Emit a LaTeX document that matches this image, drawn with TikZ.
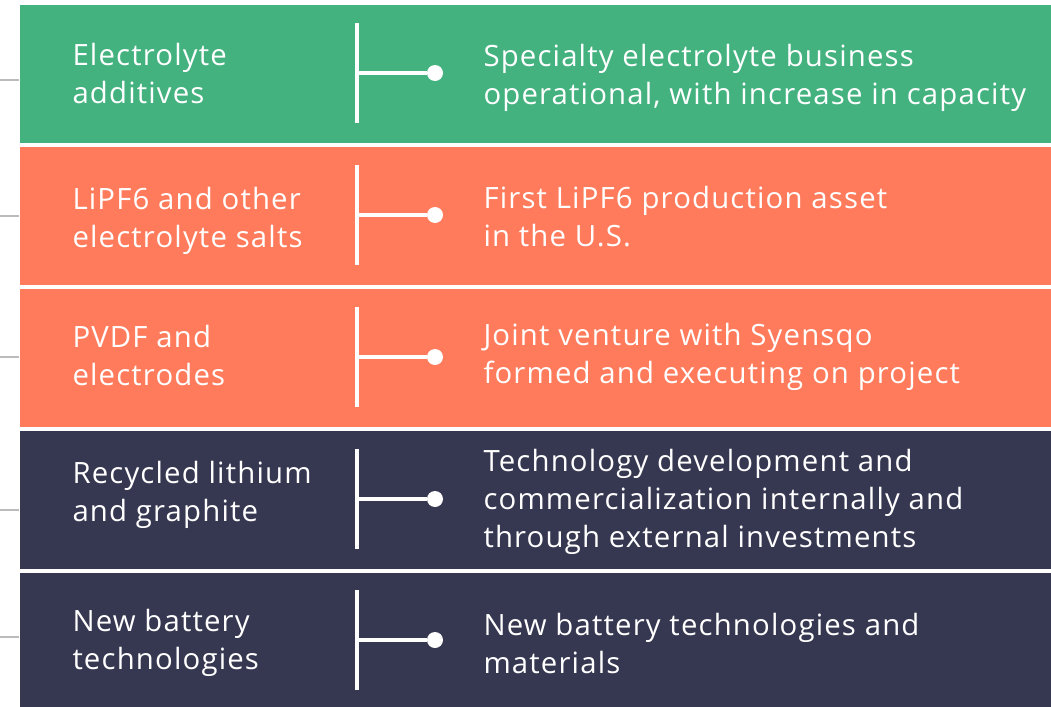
\documentclass[tikz,border=0pt]{standalone}
\usepackage{fontspec}
\setmainfont{Open Sans}[LetterSpace=4]
\definecolor{bandgreen}{RGB}{67,178,127}
\definecolor{bandorange}{RGB}{255,123,92}
\definecolor{bandnavy}{RGB}{54,55,80}
\definecolor{tickgray}{RGB}{187,187,187}
\tikzset{every picture/.style={line width=0.75pt}}
\tikzset{
  band/.style={draw=none,rectangle,minimum width=774.75pt,minimum height=103.5pt,inner sep=0pt,anchor=north west},
  lefttxt/.style={anchor=west,align=left,text=white,inner sep=0pt,font=\fontsize{22}{28.5}\selectfont},
  righttxt/.style={anchor=west,align=left,text=white,inner sep=0pt,font=\fontsize{22}{28.5}\selectfont},
  bar/.style={white,line width=2.4pt},
  pin/.style={circle,fill=white,minimum size=12pt,inner sep=0pt},
  tick/.style={tickgray,line width=2pt}
}

\begin{document}
\begin{tikzpicture}[x=0.75pt,y=0.75pt,yscale=-1,xscale=1]
\useasboundingbox (0,0) rectangle (1051,707);

%Band 1
\node [band,fill=bandgreen] (b1) at (19,4) {};
\coordinate (t1) at (0,80);
\draw [tick] (t1) -- (b1.west |- t1);
\node [lefttxt] (l1) at (72,73) {Electrolyte\\additives};
\node [righttxt] (r1) at (483,78) {Specialty electrolyte business\\operational, with increase in capacity};
\coordinate (v1a) at (357,23);
\coordinate (v1b) at (357,123);
\draw [bar] (v1a) -- (v1b);
\node [pin] (p1) at (435,73) {};
\draw [bar] (v1a |- p1) -- (p1);

%Band 2
\node [band,fill=bandorange] (b2) at (19,146) {};
\coordinate (t2) at (0,216);
\draw [tick] (t2) -- (b2.west |- t2);
\node [lefttxt] (l2) at (72,221) {LiPF6 and other\\electrolyte salts};
\node [righttxt] (r2) at (483,217) {First LiPF6 production asset\\in the U.S.};
\coordinate (v2a) at (357,165);
\coordinate (v2b) at (357,265);
\draw [bar] (v2a) -- (v2b);
\node [pin] (p2) at (435,215) {};
\draw [bar] (v2a |- p2) -- (p2);

%Band 3
\node [band,fill=bandorange] (b3) at (19,288) {};
\coordinate (t3) at (0,357);
\draw [tick] (t3) -- (b3.west |- t3);
\node [lefttxt] (l3) at (72,355) {PVDF and\\electrodes};
\node [righttxt] (r3) at (483,357) {Joint venture with Syensqo\\formed and executing on project};
\coordinate (v3a) at (357,307);
\coordinate (v3b) at (357,407);
\draw [bar] (v3a) -- (v3b);
\node [pin] (p3) at (435,357) {};
\draw [bar] (v3a |- p3) -- (p3);

%Band 4
\node [band,fill=bandnavy] (b4) at (19,430) {};
\coordinate (t4) at (0,510);
\draw [tick] (t4) -- (b4.west |- t4);
\node [lefttxt] (l4) at (72,495) {Recycled lithium\\and graphite};
\node [righttxt] (r4) at (483,502) {Technology development and\\commercialization internally and\\through external investments};
\coordinate (v4a) at (357,449);
\coordinate (v4b) at (357,549);
\draw [bar] (v4a) -- (v4b);
\node [pin] (p4) at (435,499) {};
\draw [bar] (v4a |- p4) -- (p4);

%Band 5
\node [band,fill=bandnavy] (b5) at (19,572) {};
\coordinate (t5) at (0,637);
\draw [tick] (t5) -- (b5.west |- t5);
\node [lefttxt] (l5) at (72,643) {New battery\\technologies};
\node [righttxt] (r5) at (483,643) {New battery technologies and\\materials};
\coordinate (v5a) at (357,590);
\coordinate (v5b) at (357,690);
\draw [bar] (v5a) -- (v5b);
\node [pin] (p5) at (435,640) {};
\draw [bar] (v5a |- p5) -- (p5);

\end{tikzpicture}
\end{document}
